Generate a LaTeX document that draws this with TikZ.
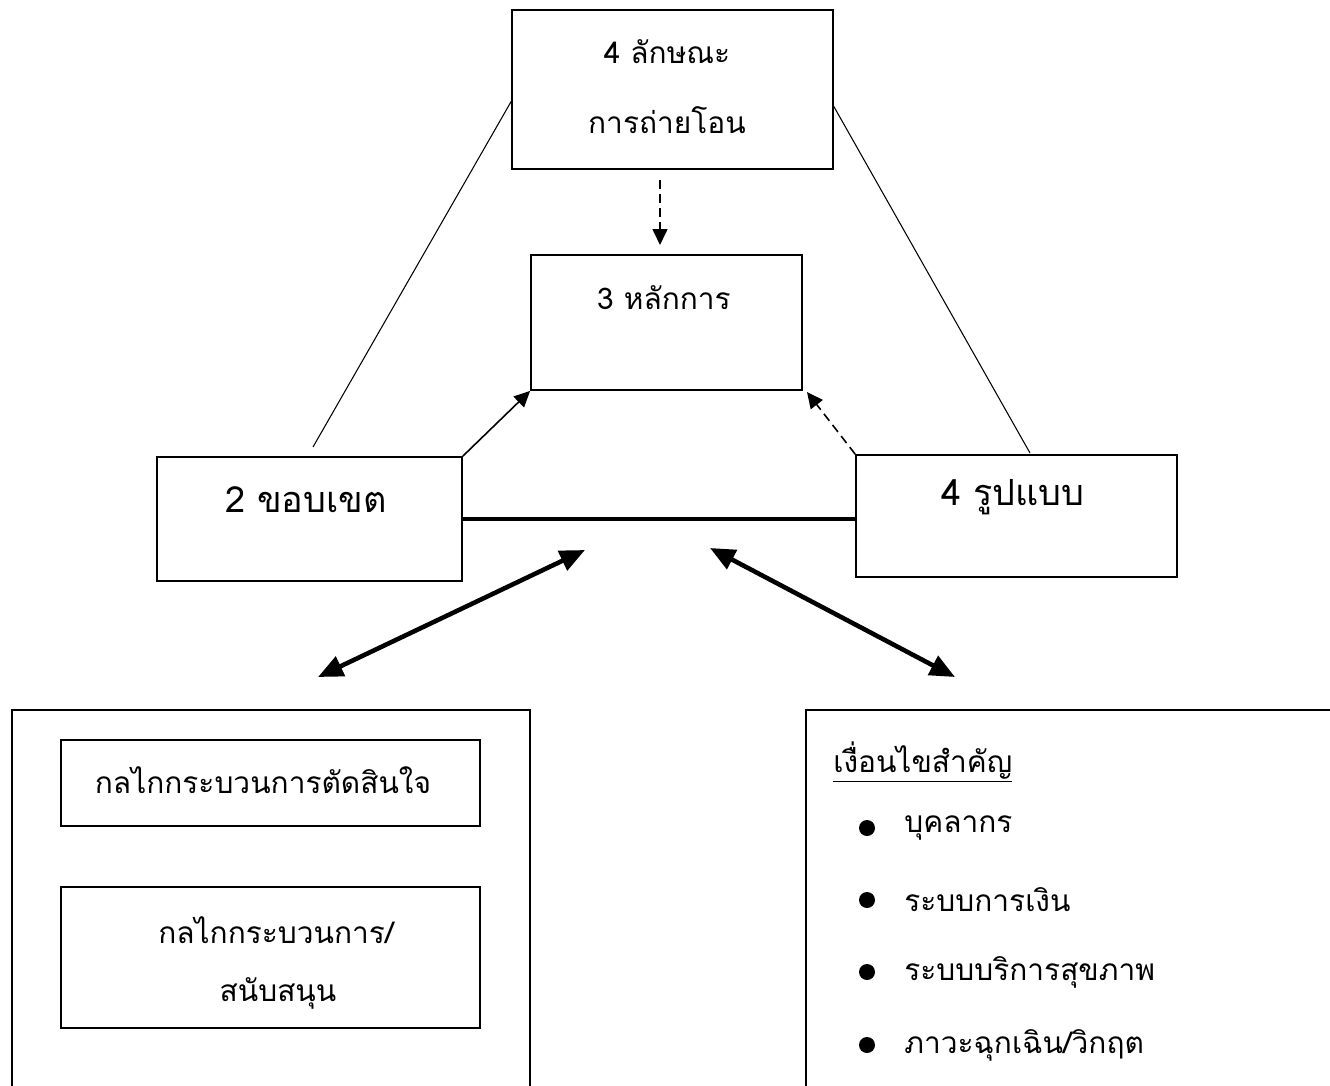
\documentclass[tikz,border=0pt]{standalone}
\usepackage{fontspec}
\setmainfont[Script=Thai]{Loma}
\usetikzlibrary{arrows.meta,positioning,calc}

\tikzset{
  box/.style={draw,line width=1pt,inner sep=0pt},
  txt/.style={font=\fontsize{17}{20}\selectfont,inner sep=0pt},
  bigtxt/.style={font=\fontsize{20.5}{24}\selectfont,inner sep=0pt},
  thin/.style={line width=0.6pt},
  thinarrow/.style={line width=0.9pt,-{Triangle[length=0.32cm,width=0.3cm]}},
  dashline/.style={dash pattern=on 5pt off 3pt},
  bigarrow/.style={line width=2.6pt,{Triangle[length=0.5cm,width=0.42cm]}-{Triangle[length=0.5cm,width=0.42cm]}},
  bullet/.style={circle,fill,inner sep=0pt,minimum size=0.32cm}
}

\begin{document}
\begin{tikzpicture}[x=0.02cm,y=-0.02cm]
  \clip (0,0) rectangle (1330,1086);
  \fill[white] (0,0) rectangle (1330,1086);

  % upper triangle of boxes
  \node[box,minimum width=6.42cm,minimum height=3.18cm] (lakshana) at (672.5,89.5) {};
  \node[txt] (lakshanaA) at (667,52) {4 ลักษณะ};
  \node[txt] (lakshanaB) at (667,120) {การถ่ายโอน};

  \node[box,minimum width=5.42cm,minimum height=2.7cm] (lakkan) at (666.5,322.5) {};
  \node[txt] (lakkanT) at (664,298) {3 หลักการ};

  \node[box,minimum width=6.1cm,minimum height=2.48cm] (khopkhet) at (309.5,519) {};
  \node[bigtxt] (khopkhetT) at (306,500) {2 ขอบเขต};

  \node[box,minimum width=6.42cm,minimum height=2.44cm] (rupbaep) at (1016.5,516) {};
  \node[bigtxt] (rupbaepT) at (1013,497) {4 รูปแบบ};

  % free ends
  \coordinate (lnL) at (313,447);
  \coordinate (lnLt) at (512,100);
  \coordinate (lnRt) at (833,105);
  \coordinate (lnR) at (1030,453);
  \coordinate (dnA) at (660,180);
  \coordinate (dnB) at (660,245);
  \coordinate (dsh) at (807,392);
  \coordinate (arL1) at (318,677);
  \coordinate (arL2) at (585,550);
  \coordinate (arR1) at (710,548);
  \coordinate (arR2) at (955,677);

  \draw[thin] (lnL) -- (lnLt);
  \draw[thin] (lnRt) -- (lnR);
  \draw[thinarrow,dashline] (dnA) -- (dnB);
  \draw[thinarrow] (khopkhet.north east) -- (lakkan.south west);
  \draw[thinarrow,dashline] (rupbaep.north west) -- (dsh);
  \draw[line width=2.2pt] (khopkhet.east) -- (khopkhet.east -| rupbaep.west);
  \draw[bigarrow] (arL1) -- (arL2);
  \draw[bigarrow] (arR1) -- (arR2);

  % lower left: mechanisms
  \node[box,minimum width=10.36cm,minimum height=8.2cm] (klaikan) at (271,915) {};
  \node[box,minimum width=8.38cm,minimum height=1.72cm] (tatsinchai) at (270.5,783) {};
  \node[txt] (tatsinchaiT) at (263,780) {กลไกกระบวนการตัดสินใจ};
  \node[box,minimum width=8.38cm,minimum height=2.82cm] (sanapsanun) at (270.5,957.5) {};
  \node[txt] (sanapsanunA) at (276,930) {กลไกกระบวนการ/};
  \node[txt] (sanapsanunB) at (278,993) {สนับสนุน};

  % lower right: key conditions
  \node[box,minimum width=11.08cm,minimum height=8.2cm] (nguankhai) at (1083,915) {};
  \node[txt,anchor=west] (nguankhaiT) at (833,762) {\underline{เงื่อนไขสำคัญ}};
  \foreach \i/\y/\item in {1/828/{บุคลากร},2/900/{ระบบการเงิน},3/972/{ระบบบริการสุขภาพ},4/1045/{ภาวะฉุกเฉิน/วิกฤต}} {
    \node[bullet] (dot\i) at (867,\y) {};
    \node[txt,anchor=west] (item\i) at (904,\y) {\item};
  }
\end{tikzpicture}
\end{document}
